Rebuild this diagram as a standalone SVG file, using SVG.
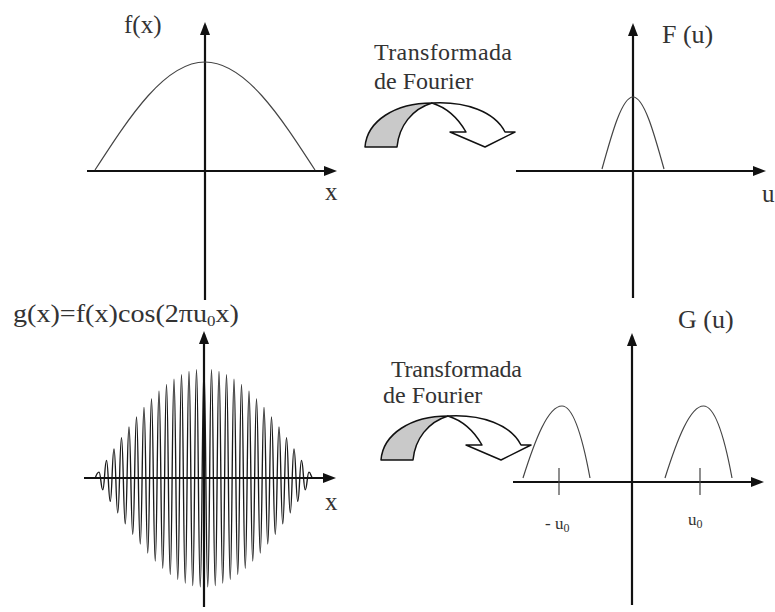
<svg xmlns="http://www.w3.org/2000/svg" width="775" height="612" viewBox="0 0 775 612">
<defs>
<style>
.axis{stroke:#111;stroke-width:2.2;fill:none;marker-end:url(#ah)}
.curve{stroke:#444;stroke-width:1.2;fill:none}
.osc{stroke:#1a1a1a;stroke-width:1.35;fill:none}
.tick{stroke:#444;stroke-width:1.2}
.lbl{font-family:"Liberation Serif","Times New Roman",serif;fill:#333}
.arw{stroke:#111;stroke-width:1.5;stroke-linejoin:round}
.back{fill:#c9c9c9}
.front{fill:#fff}
</style>
<marker id="ah" viewBox="0 0 13 10" refX="10" refY="5" markerWidth="13" markerHeight="10" markerUnits="userSpaceOnUse" orient="auto">
<path d="M0,0 L13,5 L0,10 Z" fill="#111"/>
</marker>
<g id="curvedArrow">
<path class="arw back" d="M365,147 C367,121 395,103 432,103 C412,109 399,126 397,147 Z"/>
<path class="arw front" d="M432,103 C466,101 495,112 505,132 L515,132 L485,147 L450,132 L466,132 C458,118 448,108 432,103 Z"/>
</g>
</defs>
<rect width="775" height="612" fill="#fff"/>

<g id="plot-fx">
<line class="axis" x1="205" y1="300" x2="205" y2="25"/>
<line class="axis" x1="87" y1="171" x2="334" y2="171"/>
<path class="curve" d="M95,170 C130,116 165,62 205,62 S280,116 315,170"/>
<text class="lbl" x="124" y="33" font-size="25">f(x)</text>
<text class="lbl" x="325" y="200" font-size="25">x</text>
</g>

<g id="plot-Fu">
<line class="axis" x1="633" y1="298" x2="633" y2="26"/>
<line class="axis" x1="516" y1="171" x2="763" y2="171"/>
<path class="curve" d="M602,169 C612,133 622,97 633,97 S654,133 664,169"/>
<text class="lbl" x="662" y="43" font-size="26">F (u)</text>
<text class="lbl" x="762" y="202" font-size="25">u</text>
</g>

<g id="plot-gx">
<path class="osc" d="M95.25,478 s2.05,-5.9 3.75,-5.9 s2.05,17.7 3.75,17.7 s2.05,-29.4 3.75,-29.4 s2.05,41 3.75,41 s2.05,-52.6 3.75,-52.6 s2.05,64 3.75,64 s2.05,-75.2 3.75,-75.2 s2.05,86.2 3.75,86.2 s2.05,-96.9 3.75,-96.9 s2.05,107.3 3.75,107.3 s2.05,-117.4 3.75,-117.4 s2.05,127.2 3.75,127.2 s2.05,-136.6 3.75,-136.6 s2.05,145.6 3.75,145.6 s2.05,-154.1 3.75,-154.1 s2.05,162.2 3.75,162.2 s2.05,-169.9 3.75,-169.9 s2.05,177 3.75,177 s2.05,-183.6 3.75,-183.6 s2.05,189.7 3.75,189.7 s2.05,-195.2 3.75,-195.2 s2.05,200.2 3.75,200.2 s2.05,-204.6 3.75,-204.6 s2.05,208.3 3.75,208.3 s2.05,-211.5 3.75,-211.5 s2.05,214.1 3.75,214.1 s2.05,-216 3.75,-216 s2.05,217.2 3.75,217.2 s2.05,-217.8 3.75,-217.8 s2.05,217.8 3.75,217.8 s2.05,-217.2 3.75,-217.2 s2.05,216 3.75,216 s2.05,-214.1 3.75,-214.1 s2.05,211.5 3.75,211.5 s2.05,-208.3 3.75,-208.3 s2.05,204.6 3.75,204.6 s2.05,-200.2 3.75,-200.2 s2.05,195.2 3.75,195.2 s2.05,-189.7 3.75,-189.7 s2.05,183.6 3.75,183.6 s2.05,-177 3.75,-177 s2.05,169.9 3.75,169.9 s2.05,-162.2 3.75,-162.2 s2.05,154.1 3.75,154.1 s2.05,-145.6 3.75,-145.6 s2.05,136.6 3.75,136.6 s2.05,-127.2 3.75,-127.2 s2.05,117.4 3.75,117.4 s2.05,-107.3 3.75,-107.3 s2.05,96.9 3.75,96.9 s2.05,-86.2 3.75,-86.2 s2.05,75.2 3.75,75.2 s2.05,-64 3.75,-64 s2.05,52.6 3.75,52.6 s2.05,-41 3.75,-41 s2.05,29.4 3.75,29.4 s2.05,-17.7 3.75,-17.7 s2.05,5.9 3.75,5.9"/>
<line class="axis" x1="204" y1="607" x2="204" y2="334"/>
<line class="axis" x1="84" y1="478" x2="333" y2="478"/>
<text class="lbl" x="13" y="322" font-size="25" textLength="226" lengthAdjust="spacingAndGlyphs">g(x)=f(x)cos(2πu<tspan font-size="15" dy="4">0</tspan><tspan dy="-4">x)</tspan></text>
<text class="lbl" x="325" y="510" font-size="25">x</text>
</g>

<g id="plot-Gu">
<line class="axis" x1="632" y1="605" x2="632" y2="336"/>
<line class="axis" x1="513" y1="482" x2="761" y2="482"/>
<path class="curve" d="M523,478 C535,440 548,406 562,406 C574,406 583,440 590,478"/>
<path class="curve" d="M665,478 C677,440 690,406 703.5,406 C715.5,406 725,440 732,478"/>
<line class="tick" x1="559" y1="468" x2="559" y2="495"/>
<line class="tick" x1="700" y1="468" x2="700" y2="495"/>
<text class="lbl" x="678" y="328" font-size="26">G (u)</text>
<text class="lbl" x="545" y="529" font-size="17">- u<tspan font-size="12" dy="3">0</tspan></text>
<text class="lbl" x="688" y="525" font-size="17">u<tspan font-size="12" dy="3">0</tspan></text>
</g>

<g id="connectors">
<g id="transform-top">
<use href="#curvedArrow"/>
<text class="lbl" x="374" y="60" font-size="24" textLength="138" lengthAdjust="spacing">Transformada</text>
<text class="lbl" x="374" y="89" font-size="24">de Fourier</text>
</g>
<g id="transform-bottom">
<use href="#curvedArrow" transform="translate(16,313)"/>
<text class="lbl" x="391" y="377" font-size="24" textLength="131" lengthAdjust="spacing">Transformada</text>
<text class="lbl" x="383" y="403" font-size="24">de Fourier</text>
</g>
</g>
</svg>
